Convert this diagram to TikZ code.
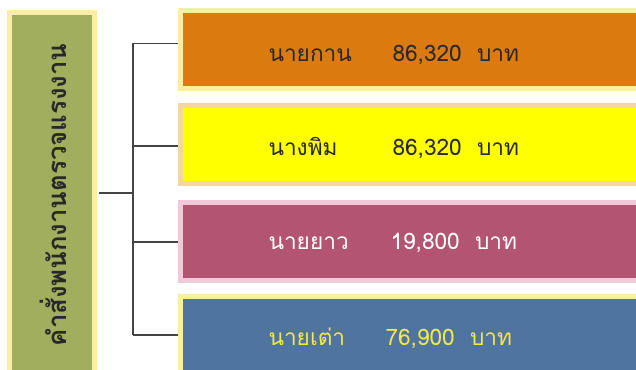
\documentclass[tikz,border=0pt]{standalone}
\usepackage{fontspec}
\newfontfamily\thaifont[Script=Thai]{Loma}
\usetikzlibrary{positioning}

\definecolor{ordergreen}{RGB}{160,174,94}
\definecolor{paleyellow}{RGB}{252,238,160}
\definecolor{palepeach}{RGB}{246,214,160}
\definecolor{palepink}{RGB}{242,201,216}
\definecolor{boxorange}{RGB}{219,122,14}
\definecolor{boxyellow}{RGB}{255,255,0}
\definecolor{boxplum}{RGB}{179,84,114}
\definecolor{boxblue}{RGB}{79,116,160}
\definecolor{textdark}{RGB}{40,40,40}
\definecolor{textyellow}{RGB}{242,232,74}
\definecolor{linegray}{RGB}{68,68,68}

\tikzset{every picture/.style={line width=0.75pt}}
\tikzset{
  paybox/.style={draw, line width=3.75pt, minimum width=390pt, minimum height=58.5pt, inner sep=0pt},
  paytext/.style={anchor=base west, inner sep=0pt, font=\thaifont\fontsize{17}{20}\selectfont},
  branch/.style={draw=linegray, line width=1.1pt}
}

\begin{document}
\begin{tikzpicture}[x=0.75pt,y=0.75pt,yscale=-1,xscale=1]
\useasboundingbox (0,0) rectangle (636,370);
\clip (0,0) rectangle (636,370);

%Shape: Rectangle, left title
\node [draw=paleyellow, fill=ordergreen, line width=3.75pt, minimum width=63.75pt, minimum height=271.9pt, inner sep=0pt] (order) at (52,193.75) {};
\node [font=\thaifont\bfseries\fontsize{19.3}{22}\selectfont, text=textdark, inner sep=0pt] (ordertext) at (53,195)
      {\rotatebox{90}{คำสั่งพนักงานตรวจแรงงาน}};

%Shape: Rectangles, the four payments
\node [paybox, draw=paleyellow, fill=boxorange] (kan) at (440.25,49.5) {};
\node [paybox, draw=palepeach, fill=boxyellow] (pim) at (440.25,144.5) {};
\node [paybox, draw=palepink, fill=boxplum] (yao) at (440.25,241.5) {};
\node [paybox, draw=paleyellow, fill=boxblue] (tao) at (440.25,335.5) {};

%Straight Lines, the tree
\coordinate (hub) at (133,193);
\coordinate (k1) at (133,43.5);
\coordinate (k2) at (133,146);
\coordinate (k3) at (133,242);
\coordinate (k4) at (133,335);
\draw [branch, shorten <=1.5pt] (order.east |- hub) -- (hub);
\draw [branch] (k1) -- (k4);
\draw [branch] (k1) -- (kan.west |- k1);
\draw [branch] (k2) -- (pim.west |- k2);
\draw [branch] (k3) -- (yao.west |- k3);
\draw [branch] (k4) -- (tao.west |- k4);

% Text Nodes
\node [paytext, text=textdark] (kanname) at (268,62) {นายกาน};
\node [paytext, text=textdark] (kanpay) at (392,62) {86,320\ \ บาท};
\node [paytext, text=textdark] (pimname) at (268,156) {นางพิม};
\node [paytext, text=textdark] (pimpay) at (392,156) {86,320\ \ บาท};
\node [paytext, text=white] (yaoname) at (268,250) {นายยาว};
\node [paytext, text=white] (yaopay) at (390,250) {19,800\ \ บาท};
\node [paytext, text=textyellow] (taoname) at (268,346) {นายเต่า};
\node [paytext, text=textyellow] (taopay) at (385,346) {76,900\ \ บาท};

\end{tikzpicture}
\end{document}
